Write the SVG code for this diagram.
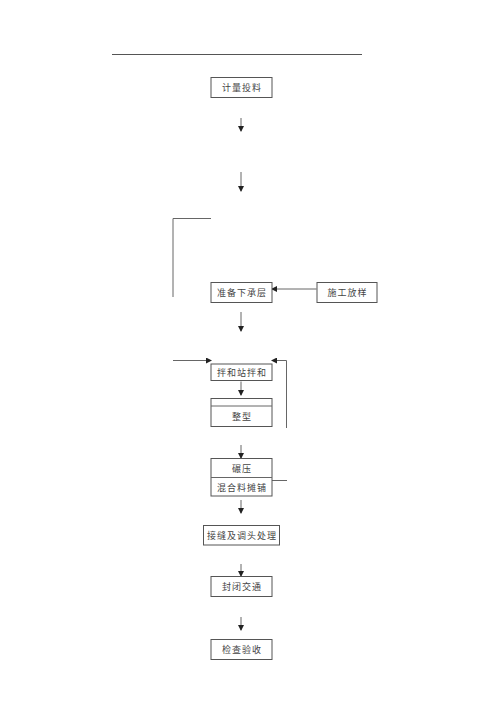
<svg xmlns="http://www.w3.org/2000/svg" width="500" height="708" viewBox="0 0 500 708">
<defs>
<style>
.box{fill:#fff;stroke:#555;stroke-width:1}
.ln{fill:none;stroke:#666;stroke-width:1}
text{font-family:"Noto Sans CJK SC","Noto Sans CJK JP",serif;font-size:9px;fill:#444;text-anchor:middle;letter-spacing:1px}
</style>
<marker id="ah" markerWidth="6" markerHeight="6" refX="5" refY="3" orient="auto" markerUnits="userSpaceOnUse">
<path d="M0,0 L6,3 L0,6 z" fill="#222"/>
</marker>
</defs>
<rect width="500" height="708" fill="#fff"/>
<line x1="112" y1="54.5" x2="362" y2="54.5" stroke="#555" stroke-width="1"/>
<g id="connectors">
<line class="ln" x1="241" y1="118" x2="241" y2="131" marker-end="url(#ah)"/>
<line class="ln" x1="241" y1="172" x2="241" y2="191" marker-end="url(#ah)"/>
<polyline class="ln" points="211,218.5 173,218.5 173,297"/>
<line class="ln" x1="316.5" y1="289" x2="272" y2="289" marker-end="url(#ah)"/>
<line class="ln" x1="241" y1="312" x2="241" y2="331" marker-end="url(#ah)"/>
<line class="ln" x1="173" y1="360.5" x2="211" y2="360.5" marker-end="url(#ah)"/>
<polyline class="ln" points="286.5,428 286.5,360.5 272,360.5" marker-end="url(#ah)"/>
<line class="ln" x1="241" y1="381.5" x2="241" y2="395" marker-end="url(#ah)"/>
<line class="ln" x1="241" y1="445" x2="241" y2="458" marker-end="url(#ah)"/>
<line class="ln" x1="271.5" y1="480.5" x2="287" y2="480.5"/>
<line class="ln" x1="241" y1="500" x2="241" y2="513" marker-end="url(#ah)"/>
<line class="ln" x1="241" y1="564" x2="241" y2="576" marker-end="url(#ah)"/>
<line class="ln" x1="241" y1="617" x2="241" y2="630" marker-end="url(#ah)"/>
</g>
<g id="n1"><rect class="box" x="211" y="77.5" width="61" height="20"/><text x="242" y="91">计量投料</text></g>
<g id="n2"><rect class="box" x="211" y="282.5" width="61" height="20"/><text x="242" y="296">准备下承层</text></g>
<g id="n3"><rect class="box" x="317" y="282.5" width="60" height="20"/><text x="347.5" y="296">施工放样</text></g>
<g id="n4"><rect class="box" x="211" y="364" width="61" height="16.5"/><text x="242" y="375.5">拌和站拌和</text></g>
<g id="n5"><rect class="box" x="211" y="398.5" width="61" height="28"/><line class="ln" x1="211" y1="406" x2="272" y2="406"/><text x="242" y="420">整型</text></g>
<g id="n6"><rect class="box" x="211" y="458.5" width="61" height="37.5"/><line class="ln" x1="211" y1="477.5" x2="272" y2="477.5"/><text x="242" y="471.5">碾压</text><text x="242" y="490.5">混合料摊铺</text></g>
<g id="n7"><rect class="box" x="203.5" y="525.5" width="76" height="19.5"/><text x="242" y="538.5">接缝及调头处理</text></g>
<g id="n8"><rect class="box" x="211" y="576.5" width="61" height="20"/><text x="242" y="590">封闭交通</text></g>
<g id="n9"><rect class="box" x="211" y="639.5" width="61" height="20"/><text x="242" y="653">检查验收</text></g>
</svg>
